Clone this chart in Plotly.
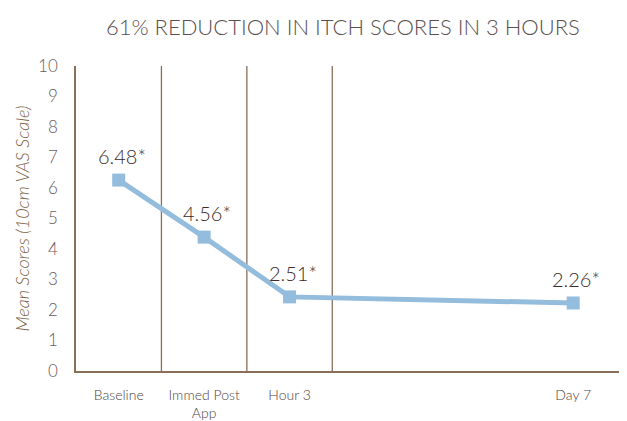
import plotly.graph_objects as go

# data
categories = ["Baseline", "Immed Post<br>App", "Hour 3", "Day 7"]
x_pos = [0, 1, 2, 5.32]          # timeline position of each time point
scores = [6.26, 4.39, 2.43, 2.23]  # plotted mean scores
labels = ["6.48*", "4.56*", "2.51*", "2.26*"]
dividers = [0.5, 1.5, 2.5]

brown = "#8a6f58"
txt = "#5a4b4b"
font = "Lato"

fig = go.Figure()

fig.add_trace(go.Scatter(
    x=x_pos, y=scores,
    mode="lines+markers",
    line=dict(color="#94bcdc", width=5),
    marker=dict(symbol="square", size=13, color="#94bcdc"),
    showlegend=False,
))

# value labels above each point
for xv, yv, t in zip(x_pos, scores, labels):
    fig.add_annotation(x=xv, y=yv, text=t, showarrow=False, yshift=24, xshift=3,
                       font=dict(family=font, size=20, color="#3a2c2c", weight=300))

for d in dividers:
    fig.add_shape(type="line", x0=d, x1=d, y0=0, y1=10, xref="x", yref="y",
                  line=dict(color=brown, width=1.3), layer="below")

# page body has an 8px margin, so the figure is 8px smaller each way
fig.update_layout(
    width=619, height=413,
    margin=dict(l=68, r=0, t=58, b=50, autoexpand=False),
    plot_bgcolor="white", paper_bgcolor="white",
    font=dict(family=font, color=txt, weight=300),
    title=dict(text="61% REDUCTION IN ITCH SCORES IN 3 HOURS",
               x=0.541, xanchor="center", y=0.954, yanchor="middle",
               font=dict(family=font, size=22, color="#5a5050", weight=300)),
    xaxis=dict(range=[-0.5, 5.95], tickvals=x_pos, ticktext=categories,
               showgrid=False, zeroline=False, showline=True, automargin=False,
               linecolor=brown, linewidth=1.5,
               ticks="", ticklabelstandoff=10,
               tickfont=dict(size=14, color="#4f4242", weight=300)),
    yaxis=dict(range=[0, 10], dtick=1, showgrid=False, zeroline=False,
               showline=True, linecolor=brown, linewidth=1.5, automargin=False,
               ticks="", ticklabelstandoff=13,
               tickfont=dict(size=17, color="#6a5c5c", weight=300),
               title=dict(text="<i>Mean Scores (10cm VAS Scale)</i>",
                          font=dict(size=18, color="#7d5f45", weight=300), standoff=4)),
)

fig.write_html("out.html")
